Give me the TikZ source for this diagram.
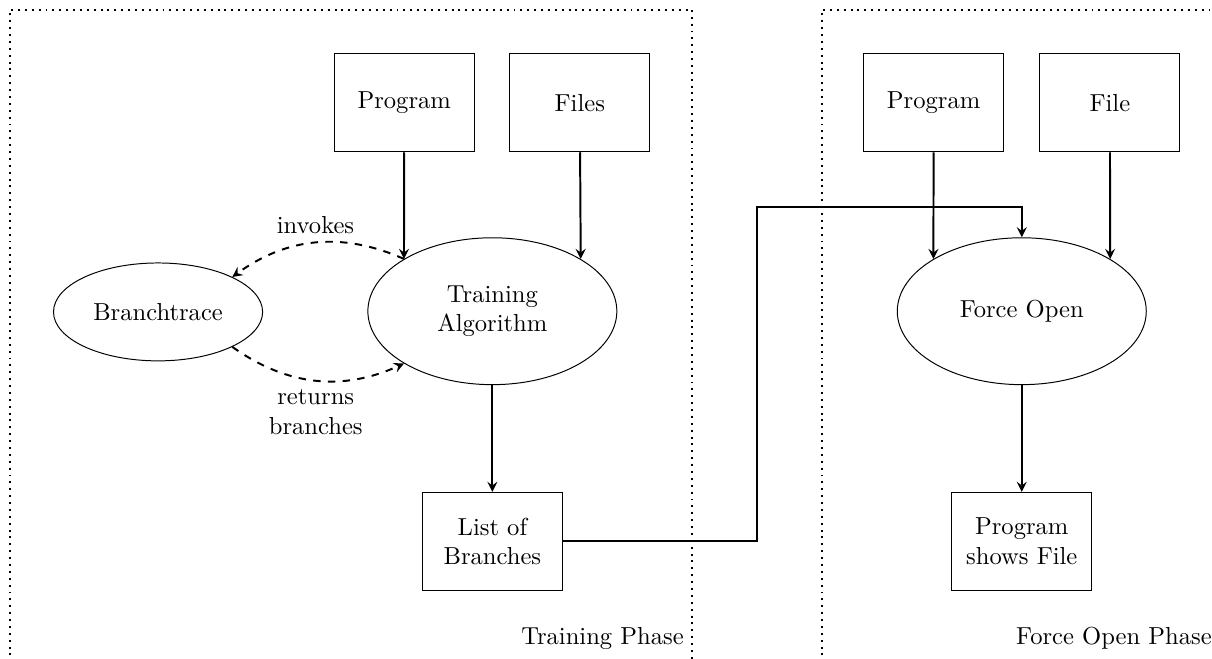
\documentclass[tikz,border=0pt]{standalone}
\usetikzlibrary{shapes.geometric}
\begin{document}
\begin{tikzpicture}[x=1mm, y=1mm,
  box/.style={draw, align=center, minimum width=20mm, minimum height=14mm},
  oval/.style={draw, ellipse, align=center, inner sep=1pt, minimum width=35.6mm, minimum height=21mm},
  flow/.style={->, >=stealth, thick}]
\path[use as bounding box, clip] (0,0) rectangle (173.3,94.1);
% the two phases
\foreach \a/\b in {1.4/99,117.5/174.5}
  \draw[thick, dotted] (\a,-0.6) rectangle (\b,92.7);
\node[anchor=south east] (phaseA) at (99,0) {Training Phase};
\node[anchor=south east] (phaseB) at (174.5,0) {Force Open Phase};
% training
\node[box] (progA) at (57.8,79.4) {Program};
\node[box] (files) at (82.9,79.4) {Files};
\node[oval] (train) at (70.4,49.6) {Training\\Algorithm};
\node[oval, minimum width=29.9mm, minimum height=14mm] (trace) at (22.6,49.5) {Branchtrace};
\node[box] (list) at (70.4,16.7) {List of\\Branches};
% force open
\node[box] (progB) at (133.5,79.4) {Program};
\node[box] (file) at (158.7,79.4) {File};
\node[oval] (force) at (146.1,49.6) {Force Open};
\node[box] (shows) at (146.1,16.7) {Program\\shows File};
\coordinate (turn) at (108.3,64.5);

\draw[flow] (progA) -- (train.north west);
\draw[flow] (files) -- (train.north east);
\draw[flow] (train) -- (list);
\draw[flow, dashed] (train.north west) to[bend right=30] node[above] {invokes} (trace.north east);
\draw[flow, dashed] (trace.south east) to[bend right=30] node[below, align=center] {returns\\branches} (train.south west);
\draw[flow] (progB) -- (force.north west);
\draw[flow] (file) -- (force.north east);
\draw[flow] (force) -- (shows);
\draw[flow] (list.east) -| (turn) -| (force.north);
\end{tikzpicture}
\end{document}
